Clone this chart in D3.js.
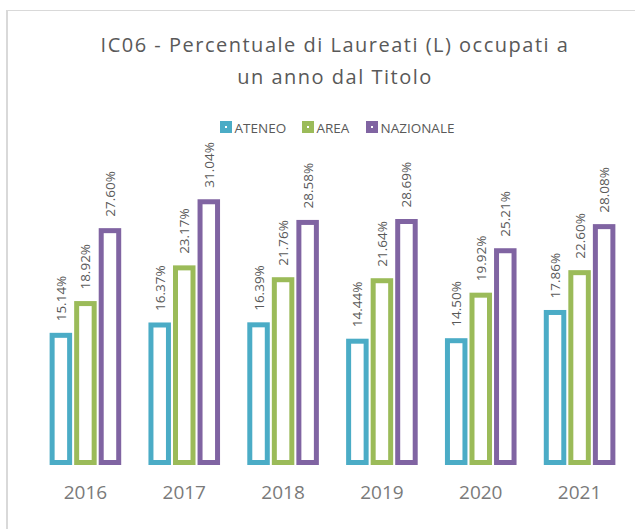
<!DOCTYPE html>
<html>
<head>
<meta charset="utf-8">
<script src="https://cdn.jsdelivr.net/npm/d3@7"></script>
<style>
  html, body { margin: 0; padding: 0; background: #fff; }
  svg { display: block; }
</style>
</head>
<body>
<div id="chart"></div>
<script>
// Data
const years = ["2016", "2017", "2018", "2019", "2020", "2021"];
const seriesNames = ["ATENEO", "AREA", "NAZIONALE"];
const ateneo = [15.14, 16.37, 16.39, 14.44, 14.50, 17.86];
const area = [18.92, 23.17, 21.76, 21.64, 19.92, 22.60];
const nazionale = [27.60, 31.04, 28.58, 28.69, 25.21, 28.08];
const colors = ["#4BACC6", "#9BBB59", "#8064A2"];
const titleLines = ["IC06 - Percentuale di Laureati (L) occupati a", "un anno dal Titolo"];

const values = [ateneo, area, nazionale];
const rows = years.map((y, i) => ({
  year: y,
  vals: seriesNames.map((s, k) => ({ series: s, value: values[k][i], color: colors[k] }))
}));

const W = 635, H = 529;
const font = "'Open Sans', 'Noto Sans', sans-serif";

const svg = d3.select("#chart").append("svg")
  .attr("width", W).attr("height", H);

// chart frame (left and top edges visible)
svg.append("line").attr("x1", 7).attr("x2", 7).attr("y1", 10).attr("y2", H)
  .attr("stroke", "#d9d9d9").attr("stroke-width", 2);
svg.append("line").attr("x1", 7).attr("x2", W).attr("y1", 10.5).attr("y2", 10.5)
  .attr("stroke", "#d9d9d9").attr("stroke-width", 1);

// title
const title = svg.append("text")
  .attr("text-anchor", "middle")
  .attr("font-family", font)
  .attr("font-size", 20)
  .attr("letter-spacing", 1.5)
  .attr("fill", "#595959");
title.selectAll("tspan").data(titleLines).join("tspan")
  .attr("x", 335)
  .attr("y", (d, i) => 52 + i * 32)
  .text(d => d);

// legend
const legendX = [220, 302, 366];
const legend = svg.append("g");
seriesNames.forEach((s, k) => {
  const g = legend.append("g").attr("transform", `translate(${legendX[k]},121)`);
  g.append("rect").attr("x", 2.5).attr("y", 2.5).attr("width", 7).attr("height", 7)
    .attr("fill", "#fff").attr("stroke", colors[k]).attr("stroke-width", 5);
  g.append("text").attr("x", 14.5).attr("y", 11.5)
    .attr("font-family", font).attr("font-size", 13.5)
    .attr("fill", "#595959").text(s);
});

// scales
const x = d3.scaleBand().domain(years).range([36, 629])
  .paddingInner(0.255).paddingOuter(0.1275);
const xs = d3.scaleBand().domain(seriesNames).range([0, x.bandwidth()]);
const y = d3.scaleLinear().domain([0, 35]).range([462.5, 168.5]);

const barW = 17.5;
const groups = svg.append("g").selectAll("g").data(rows).join("g")
  .attr("transform", d => `translate(${x(d.year)},0)`);

groups.selectAll("rect").data(d => d.vals).join("rect")
  .attr("x", d => xs(d.series) + (xs.bandwidth() - barW) / 2)
  .attr("y", d => y(d.value))
  .attr("width", barW)
  .attr("height", d => y(0) - y(d.value))
  .attr("fill", "#fff")
  .attr("stroke", d => d.color)
  .attr("stroke-width", 5);

groups.selectAll("text.val").data(d => d.vals).join("text")
  .attr("class", "val")
  .attr("transform", d => `translate(${xs(d.series) + xs.bandwidth() / 2 + 5},${y(d.value) - 14}) rotate(-90)`)
  .attr("font-family", font).attr("font-size", 13.5)
  .attr("fill", "#595959")
  .text(d => d.value.toFixed(2) + "%");

// x axis labels
const xAxis = svg.append("g").attr("transform", "translate(0,473)")
  .call(d3.axisBottom(x).tickSize(0).tickPadding(0));
xAxis.select(".domain").remove();
xAxis.selectAll("text")
  .attr("dy", "1.35em")
  .attr("font-family", font).attr("font-size", 19)
  .attr("fill", "#7a7a7a");
</script>
</body>
</html>
